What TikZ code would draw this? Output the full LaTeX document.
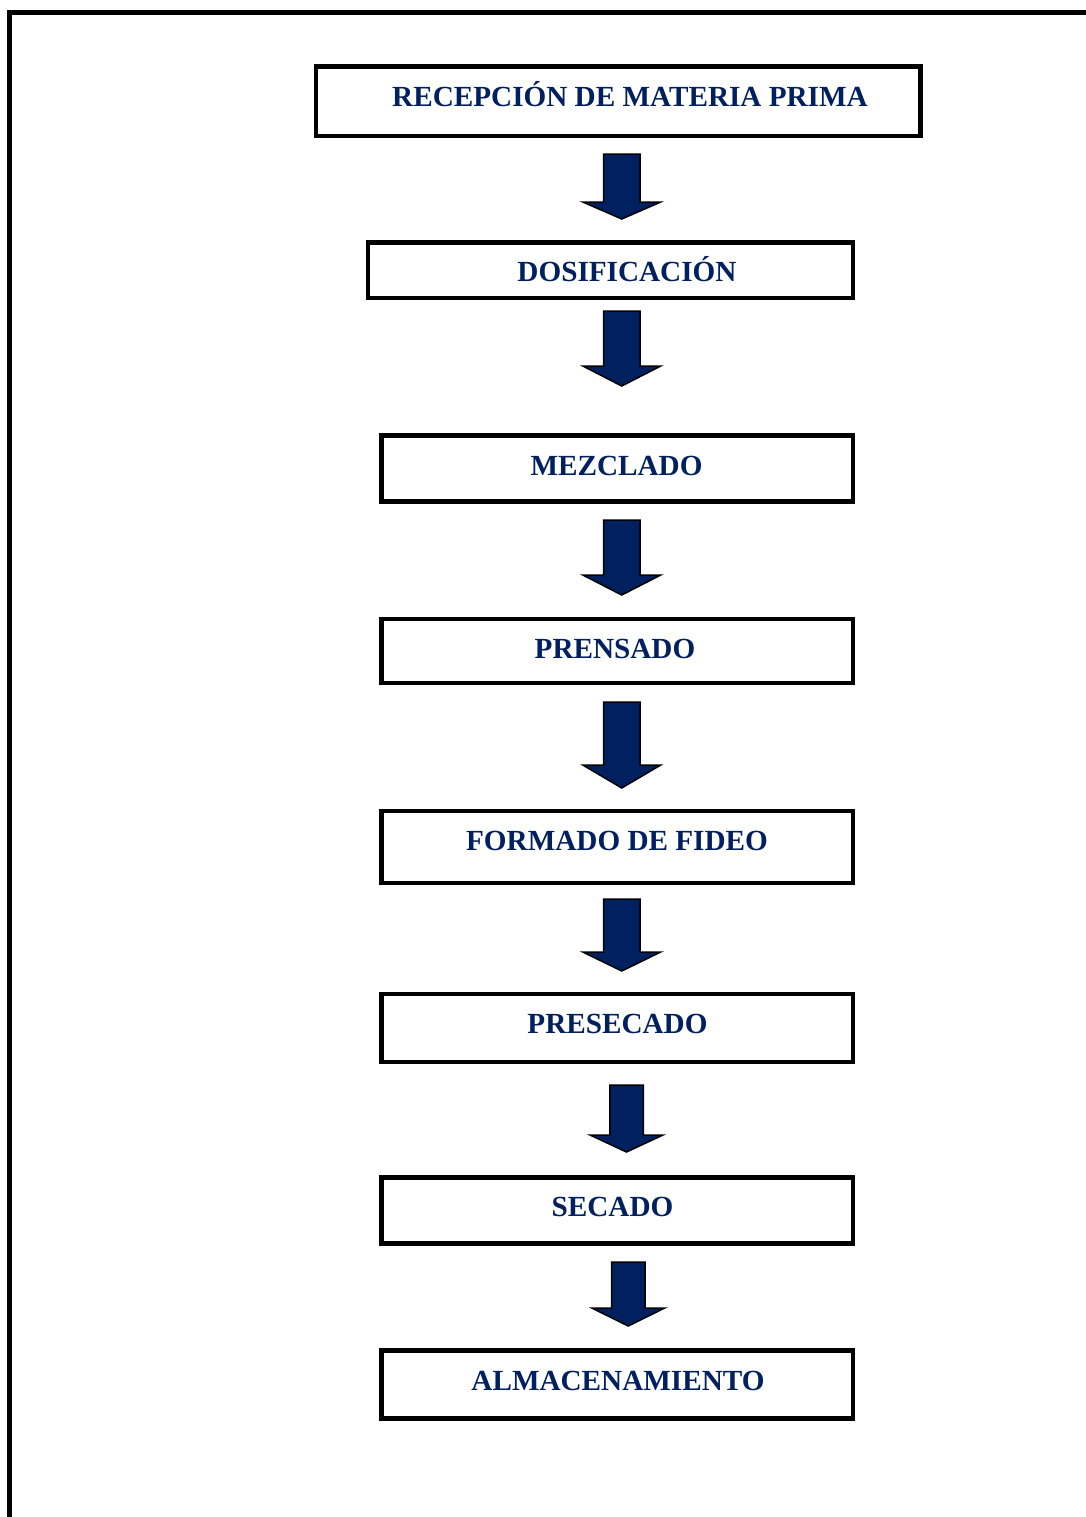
\documentclass[tikz,border=0pt]{standalone}
\usepackage{fontspec}
\setmainfont{Liberation Serif}
\definecolor{navy}{RGB}{0,32,96}
\tikzset{
  stepbox/.style={draw=black, line width=2.3pt, inner sep=0pt, fill=white},
  steptext/.style={anchor=base, inner sep=0pt, text=navy,
    font=\fontsize{14.6}{17}\selectfont\bfseries},
  blockarrow/.style={draw=black, line width=0.75pt, fill=navy, line join=miter},
  frame/.style={draw=black, line width=2.5pt}
}
% block arrow: #1 centre x, #2 shaft top, #3 head base, #4 tip, #5 shaft half width, #6 head half width
\newcommand{\flowarrow}[6]{%
  \path[blockarrow] (#1-#5,#2) -- (#1+#5,#2) -- (#1+#5,#3) -- (#1+#6,#3)
    -- (#1,#4) -- (#1-#6,#3) -- (#1-#5,#3) -- cycle;}
\begin{document}
\begin{tikzpicture}[x=0.5pt, y=-0.5pt]
\useasboundingbox (0,0) rectangle (1086,1517);

% outer frame (runs off the page on the right and bottom)
\draw[frame] (9.2,1517) -- (9.2,12) -- (1086,12);

% process steps
\node[stepbox, minimum width=302.25pt, minimum height=34.75pt] (b1) at (618.25,101.25) {};
\node[stepbox, minimum width=242.5pt,  minimum height=27.75pt] (b2) at (610.5,270.25) {};
\node[stepbox, minimum width=235.75pt, minimum height=32.9pt]  (b3) at (617.25,468.6) {};
\node[stepbox, minimum width=235.75pt, minimum height=32pt]    (b4) at (617.25,651) {};
\node[stepbox, minimum width=235.75pt, minimum height=36pt]    (b5) at (617.25,847) {};
\node[stepbox, minimum width=235.75pt, minimum height=34pt]    (b6) at (617.25,1028) {};
\node[stepbox, minimum width=235.75pt, minimum height=33pt]    (b7) at (617.25,1210.5) {};
\node[stepbox, minimum width=235.75pt, minimum height=34pt]    (b8) at (617.25,1384.5) {};

\node[steptext] (t1) at (630,106)    {RECEPCIÓN DE MATERIA PRIMA};
\node[steptext] (t2) at (627,281.7)  {DOSIFICACIÓN};
\node[steptext] (t3) at (616.5,475.7){MEZCLADO};
\node[steptext] (t4) at (615,658)    {PRENSADO};
\node[steptext] (t5) at (617,850)    {FORMADO DE FIDEO};
\node[steptext] (t6) at (617.5,1033) {PRESECADO};
\node[steptext] (t7) at (612.5,1216) {SECADO};
\node[steptext] (t8) at (618,1390)   {ALMACENAMIENTO};

% arrows between steps
\flowarrow{621.75}{154}{202}{219}{18.25}{39}
\flowarrow{621.75}{311}{366}{386}{18.25}{39}
\flowarrow{621.75}{520}{575}{595}{18.25}{39}
\flowarrow{621.75}{702}{765}{788}{18.25}{39}
\flowarrow{621.75}{899}{952}{971}{18.25}{39}
\flowarrow{626.5}{1085}{1135}{1152}{16.75}{36.5}
\flowarrow{628.25}{1262}{1308}{1326}{16.75}{36.5}
\end{tikzpicture}
\end{document}
